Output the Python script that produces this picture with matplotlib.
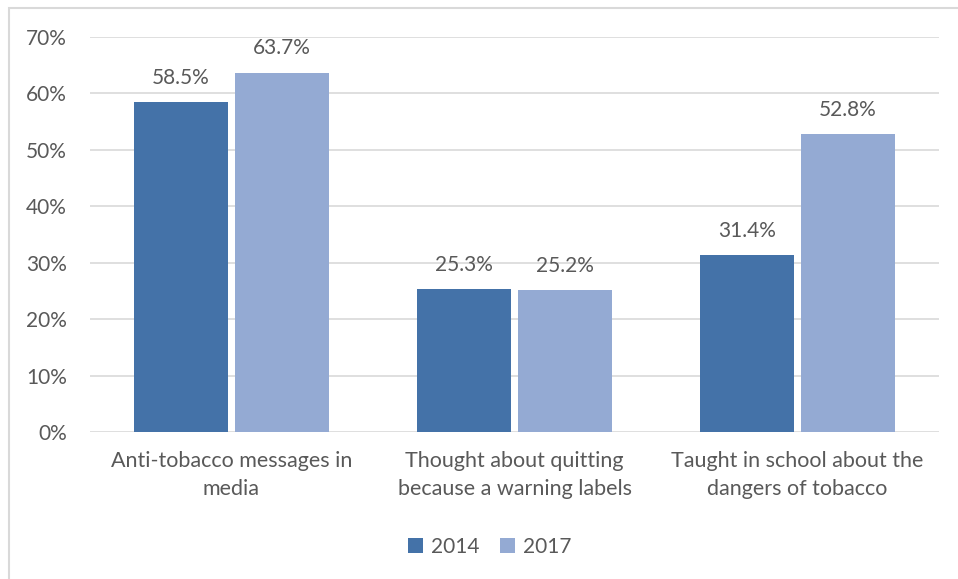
import matplotlib
matplotlib.use("Agg")
import matplotlib.pyplot as plt
from matplotlib.patches import Rectangle
import numpy as np

categories = ["Anti-tobacco messages in\nmedia",
              "Thought about quitting\nbecause a warning labels",
              "Taught in school about the\ndangers of tobacco"]
series_names = ["2014", "2017"]
values_2014 = [58.5, 25.3, 31.4]
values_2017 = [63.7, 25.2, 52.8]
y_ticks = [0, 10, 20, 30, 40, 50, 60, 70]

c2014 = "#4472A8"
c2017 = "#94AAD3"
txt = "#595959"
font = "Lato"
fs = 15

fig = plt.figure(figsize=(9.58, 5.79), dpi=100)
W, H = 958, 579
ax = fig.add_axes([90 / W, 1 - 432 / H, (939 - 90) / W, (432 - 37) / H])

# outer chart frame
fig.patches.append(Rectangle((9 / W, -0.1), 1.2, 1 - 8 / H + 0.1,
                             transform=fig.transFigure, fill=False,
                             edgecolor="#D9D9D9", linewidth=1.5))

x = np.arange(len(categories))
bw = 0.329
off = bw / 2 + 0.014
b1 = ax.bar(x - off, values_2014, bw, color=c2014, label=series_names[0], zorder=3)
b2 = ax.bar(x + off, values_2017, bw, color=c2017, label=series_names[1], zorder=3)

for bars, vals in ((b1, values_2014), (b2, values_2017)):
    for rect, v in zip(bars, vals):
        ax.text(rect.get_x() + rect.get_width() / 2, v + 2.5, f"{v:.1f}%",
                ha="center", va="bottom", fontsize=fs, color=txt, family=font)

ax.set_xlim(-0.5, 2.5)
ax.set_ylim(0, 70)
ax.set_yticks(y_ticks)
ax.set_yticklabels([f"{t}%" for t in y_ticks], fontsize=fs, color=txt, family=font)
ax.set_xticks(x)
ax.set_xticklabels(categories, fontsize=15.5, color=txt, family=font, linespacing=1.45)
ax.tick_params(axis="both", length=0)
ax.tick_params(axis="y", pad=16.5)
ax.tick_params(axis="x", pad=14)
ax.grid(axis="y", color="#D9D9D9", linewidth=1.2, zorder=0)
for s in ax.spines.values():
    s.set_visible(False)

leg = fig.legend(handles=[b1, b2], labels=series_names, loc="center",
                 bbox_to_anchor=(490 / W, 1 - 547 / H), ncol=2, frameon=False,
                 prop={"family": font, "size": fs}, handlelength=0.7,
                 handleheight=0.7, columnspacing=1.0, handletextpad=0.4)
for t in leg.get_texts():
    t.set_color(txt)

fig.savefig("out.png", dpi=100)
